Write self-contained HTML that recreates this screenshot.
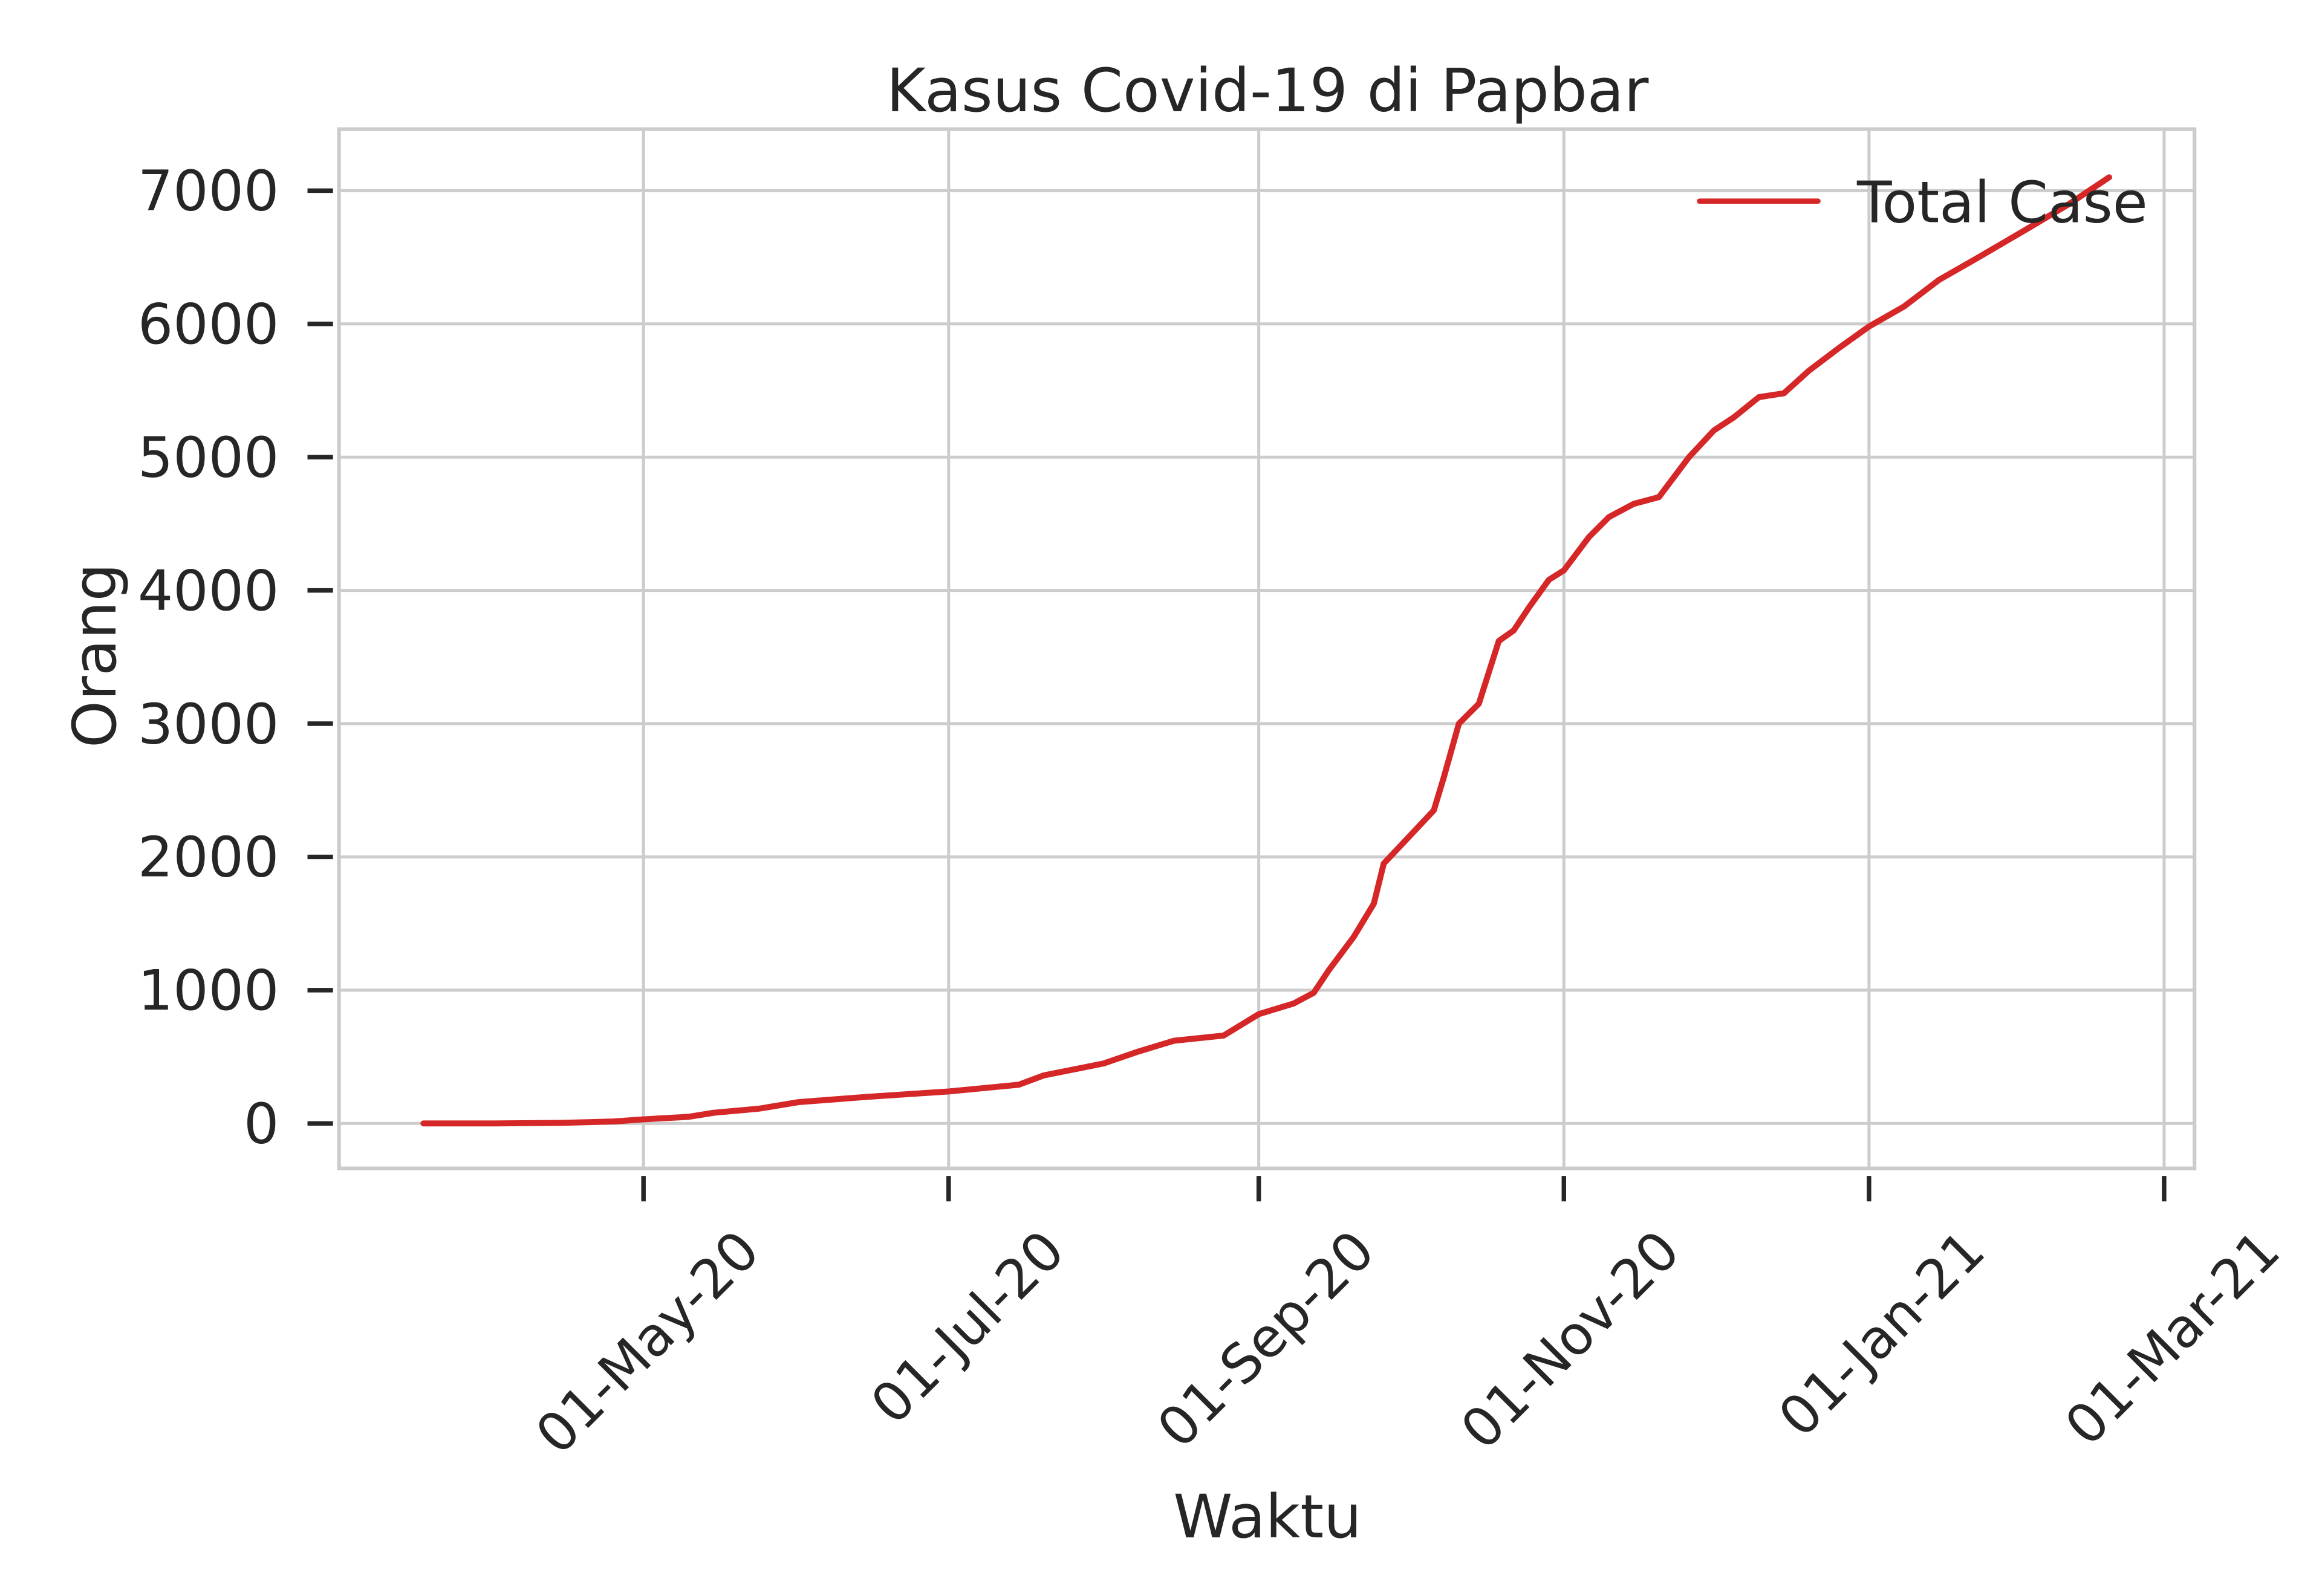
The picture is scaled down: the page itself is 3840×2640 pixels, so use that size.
<!DOCTYPE html>
<html><head><meta charset="utf-8">
<style>
html,body{margin:0;padding:0;background:#fff;}
svg{display:block;}
text{font-family:"DejaVu Sans","Liberation Sans",sans-serif;fill:#262626;}
</style></head>
<body>
<svg id="chart" width="3840" height="2640" viewBox="0 0 1548 1064" xmlns="http://www.w3.org/2000/svg">
  <rect x="0" y="0" width="1548" height="1064" fill="#fff"/>
  <g id="grid"></g>
  <rect x="226" y="86" width="1237" height="693" fill="none" stroke="#cccccc" stroke-width="2.5"/>
  <g id="ticks"></g>
  <g id="series"></g>
  <text x="845" y="74" font-size="40" text-anchor="middle">Kasus Covid-19 di Papbar</text>
  <text x="845" y="1025" font-size="40" text-anchor="middle">Waktu</text>
  <text transform="translate(77,437) rotate(-90)" font-size="40" text-anchor="middle">Orang</text>
  <g>
    <line x1="1133" y1="134" x2="1212" y2="134" stroke="#d62728" stroke-width="3.5" stroke-linecap="round"/>
    <text x="1238" y="148" font-size="38">Total Case</text>
  </g>
</svg>
<script>
const dates = ["2020-03-18","2020-04-01","2020-04-15","2020-04-25","2020-05-01","2020-05-10","2020-05-15","2020-05-24","2020-06-01","2020-06-15","2020-07-01","2020-07-15","2020-07-20","2020-08-01","2020-08-08","2020-08-15","2020-08-25","2020-09-01","2020-09-08","2020-09-12","2020-09-15","2020-09-20","2020-09-24","2020-09-26","2020-10-01","2020-10-06","2020-10-08","2020-10-11","2020-10-15","2020-10-19","2020-10-22","2020-10-25","2020-10-29","2020-11-01","2020-11-06","2020-11-10","2020-11-15","2020-11-20","2020-11-26","2020-12-01","2020-12-05","2020-12-10","2020-12-15","2020-12-20","2020-12-26","2021-01-01","2021-01-08","2021-01-15","2021-01-22","2021-02-01","2021-02-10","2021-02-18"];
const values = [0,0,5,15,30,50,80,110,160,200,240,290,360,450,540,620,660,820,900,980,1150,1400,1650,1950,2150,2350,2600,3000,3150,3620,3700,3870,4080,4150,4400,4550,4650,4700,5000,5200,5300,5450,5480,5650,5820,5980,6130,6330,6480,6700,6900,7100];
const yTicks = [0,1000,2000,3000,4000,5000,6000,7000];
const xTickDates = ["2020-05-01","2020-07-01","2020-09-01","2020-11-01","2021-01-01","2021-03-01"];
const xTickLabels = ["01-May-20","01-Jul-20","01-Sep-20","01-Nov-20","01-Jan-21","01-Mar-21"];

const NS="http://www.w3.org/2000/svg";
const DAY=86400000;
const t0=Date.UTC(2020,4,1);
function dayOf(s){const p=s.split("-");return (Date.UTC(+p[0],+p[1]-1,+p[2])-t0)/DAY;}
function xScale(s){return 429+dayOf(s)*(1246-429)/245;}
function yScale(v){return 749-v*(749-127)/7000;}
function mk(tag,attrs,parent){const e=document.createElementNS(NS,tag);for(const k in attrs)e.setAttribute(k,attrs[k]);parent.appendChild(e);return e;}

const grid=document.getElementById("grid"), ticks=document.getElementById("ticks"), series=document.getElementById("series");
yTicks.forEach(v=>{
  const y=yScale(v);
  const g=mk("line",{x1:226,x2:1463,y1:y,y2:y,stroke:"#cccccc","stroke-width":2},grid);
  
  
  const t=mk("line",{x1:205,x2:222,y1:y,y2:y,stroke:"#262626","stroke-width":3},ticks);
  
  
  const l=mk("text",{x:186,y:y+13,"font-size":37,"text-anchor":"end"},ticks);
  l.textContent=String(v);
  
  
});
xTickDates.forEach((d,i)=>{
  const x=xScale(d);
  const g=mk("line",{x1:x,x2:x,y1:86,y2:779,stroke:"#cccccc","stroke-width":2},grid);
  
  
  const t=mk("line",{x1:x,x2:x,y1:784,y2:801,stroke:"#262626","stroke-width":3},ticks);
  
  
  const l=mk("text",{transform:"translate("+(x+60)+",817) rotate(-45)","font-size":36,"text-anchor":"end",dy:"0.75em"},ticks);
  l.textContent=xTickLabels[i];
  
  
});
const pts=dates.map((d,i)=>xScale(d).toFixed(1)+","+yScale(values[i]).toFixed(1)).join(" ");
const line=mk("polyline",{points:pts,fill:"none",stroke:"#d62728","stroke-width":4,"stroke-linejoin":"round","stroke-linecap":"round"},series);


</script>
</body></html>
